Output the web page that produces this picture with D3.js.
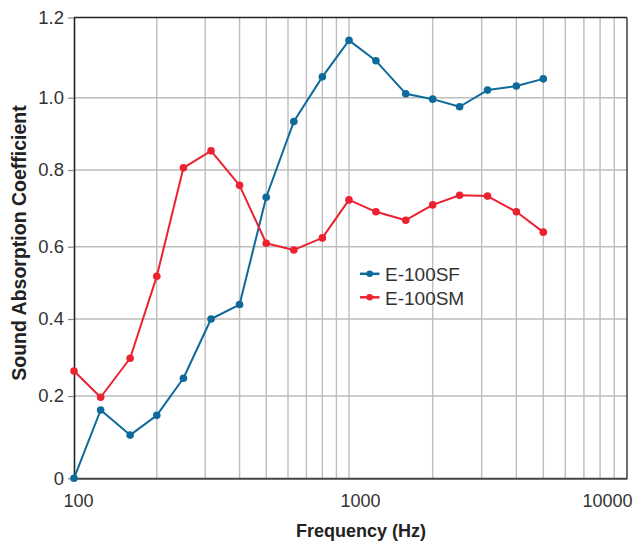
<!DOCTYPE html>
<html>
<head>
<meta charset="utf-8">
<script src="https://cdn.jsdelivr.net/npm/d3@7"></script>
<style>
  html, body { margin: 0; padding: 0; background: #fff; }
  svg { display: block; font-family: "Liberation Sans", Arial, sans-serif; }
</style>
</head>
<body>
<svg id="chart" width="643" height="544"></svg>
<script>
// One-third-octave band centre frequencies (Hz)
const frequencies = [100, 125, 160, 200, 250, 315, 400, 500, 630, 800,
                     1000, 1250, 1600, 2000, 2500, 3150, 4000, 5000];

// Sound absorption coefficients per band
const e100sf = [0.00, 0.166, 0.105, 0.153, 0.246, 0.40, 0.44, 0.729, 0.934, 1.052,
                1.143, 1.092, 1.010, 0.996, 0.975, 1.019, 1.029, 1.047];
const e100sm = [0.265, 0.197, 0.298, 0.518, 0.806, 0.853, 0.760, 0.609, 0.591, 0.623,
                0.722, 0.691, 0.669, 0.709, 0.734, 0.732, 0.691, 0.638];

const seriesNames = ["E-100SF", "E-100SM"];
const yTicks = [0, 0.2, 0.4, 0.6, 0.8, 1.0, 1.2];
const xLabelTicks = [100, 1000, 10000];
const xGridTicks = [200, 300, 400, 500, 600, 700, 800, 900,
                    1000, 2000, 3000, 4000, 5000, 6000, 7000, 8000, 9000];

const colors = ["#0e6a9a", "#ec2230"];

const svg = d3.select("#chart");
const plotLeft = 74, plotRight = 627, plotTop = 17.5, plotBottom = 478.3;

// log frequency axis, one segment per decade
const x = d3.scaleLog().domain([100, 1000, 10000]).range([plotLeft, 349, plotRight]);
// piecewise-linear value axis, one segment per grid interval
const y = d3.scaleLinear()
  .domain(yTicks)
  .range([478.3, 396, 319, 246.7, 170, 97.7, 17.5]);

// grid
const grid = svg.append("g");
grid.selectAll("line.v").data(xGridTicks).join("line")
  .attr("x1", d => x(d)).attr("x2", d => x(d))
  .attr("y1", plotTop).attr("y2", plotBottom)
  .attr("stroke", "#bdbdbd").attr("stroke-width", 1.4);
grid.selectAll("line.h").data(yTicks.slice(1, -1)).join("line")
  .attr("x1", plotLeft).attr("x2", plotRight)
  .attr("y1", d => y(d)).attr("y2", d => y(d))
  .attr("stroke", "#bdbdbd").attr("stroke-width", 1.4);

// frame
svg.append("line").attr("x1", plotLeft).attr("x2", plotRight).attr("y1", plotTop).attr("y2", plotTop)
  .attr("stroke", "#222").attr("stroke-width", 1.4);
svg.append("line").attr("x1", plotRight).attr("x2", plotRight).attr("y1", plotTop).attr("y2", plotBottom)
  .attr("stroke", "#333").attr("stroke-width", 1.4);

// y axis
const yAxis = svg.append("g")
  .attr("transform", `translate(${plotLeft},0)`)
  .call(d3.axisLeft(y).tickValues(yTicks)
    .tickFormat(d => d === 0 ? "0" : d3.format(".1f")(d))
    .tickSize(6).tickSizeOuter(0).tickPadding(4));
yAxis.select(".domain").attr("stroke", "#222").attr("stroke-width", 1.6);
yAxis.selectAll(".tick line").attr("stroke", "#888").attr("stroke-width", 1.2);
yAxis.selectAll(".tick text")
  .attr("font-size", 18.5).attr("fill", "#333")
  .attr("font-family", "'Liberation Sans', Arial, sans-serif");

// x axis
const labelShift = {100: 4, 1000: 11, 10000: -20};
const xAxis = svg.append("g")
  .attr("transform", `translate(0,${plotBottom})`)
  .call(d3.axisBottom(x).tickValues(xLabelTicks)
    .tickFormat(d3.format("d")).tickSize(0).tickSizeOuter(0).tickPadding(16));
xAxis.select(".domain").attr("stroke", "#444").attr("stroke-width", 2);
xAxis.selectAll(".tick text")
  .attr("font-size", 18).attr("fill", "#333")
  .attr("dx", d => labelShift[d])
  .attr("font-family", "'Liberation Sans', Arial, sans-serif");

// axis titles
svg.append("text")
  .attr("x", 361).attr("y", 537)
  .attr("text-anchor", "middle")
  .attr("font-size", 18).attr("font-weight", "bold").attr("fill", "#222")
  .text("Frequency (Hz)");
svg.append("text")
  .attr("transform", "translate(26,243) rotate(-90)")
  .attr("text-anchor", "middle")
  .attr("font-size", 19.5).attr("font-weight", "bold").attr("fill", "#222")
  .text("Sound Absorption Coefficient");

// series
const series = [e100sf, e100sm];
const line = d3.line().x((d, i) => x(frequencies[i])).y(d => y(d));
series.forEach((vals, k) => {
  const g = svg.append("g");
  g.append("path").datum(vals)
    .attr("d", line).attr("fill", "none")
    .attr("stroke", colors[k]).attr("stroke-width", 2)
    .attr("stroke-linejoin", "round");
  g.selectAll("circle").data(vals).join("circle")
    .attr("cx", (d, i) => x(frequencies[i])).attr("cy", d => y(d))
    .attr("r", 3.8).attr("fill", colors[k]);
});

// legend
const legend = svg.append("g");
seriesNames.forEach((name, k) => {
  const cy = 273.8 + k * 23.5;
  legend.append("line").attr("x1", 360).attr("x2", 379.5)
    .attr("y1", cy).attr("y2", cy)
    .attr("stroke", colors[k]).attr("stroke-width", 2.5);
  legend.append("circle").attr("cx", 369.7).attr("cy", cy).attr("r", 3.3)
    .attr("fill", colors[k]);
  legend.append("text").attr("x", 385).attr("y", cy + 7.2)
    .attr("font-size", 19).attr("fill", "#333")
    .text(name);
});
</script>
</body>
</html>
